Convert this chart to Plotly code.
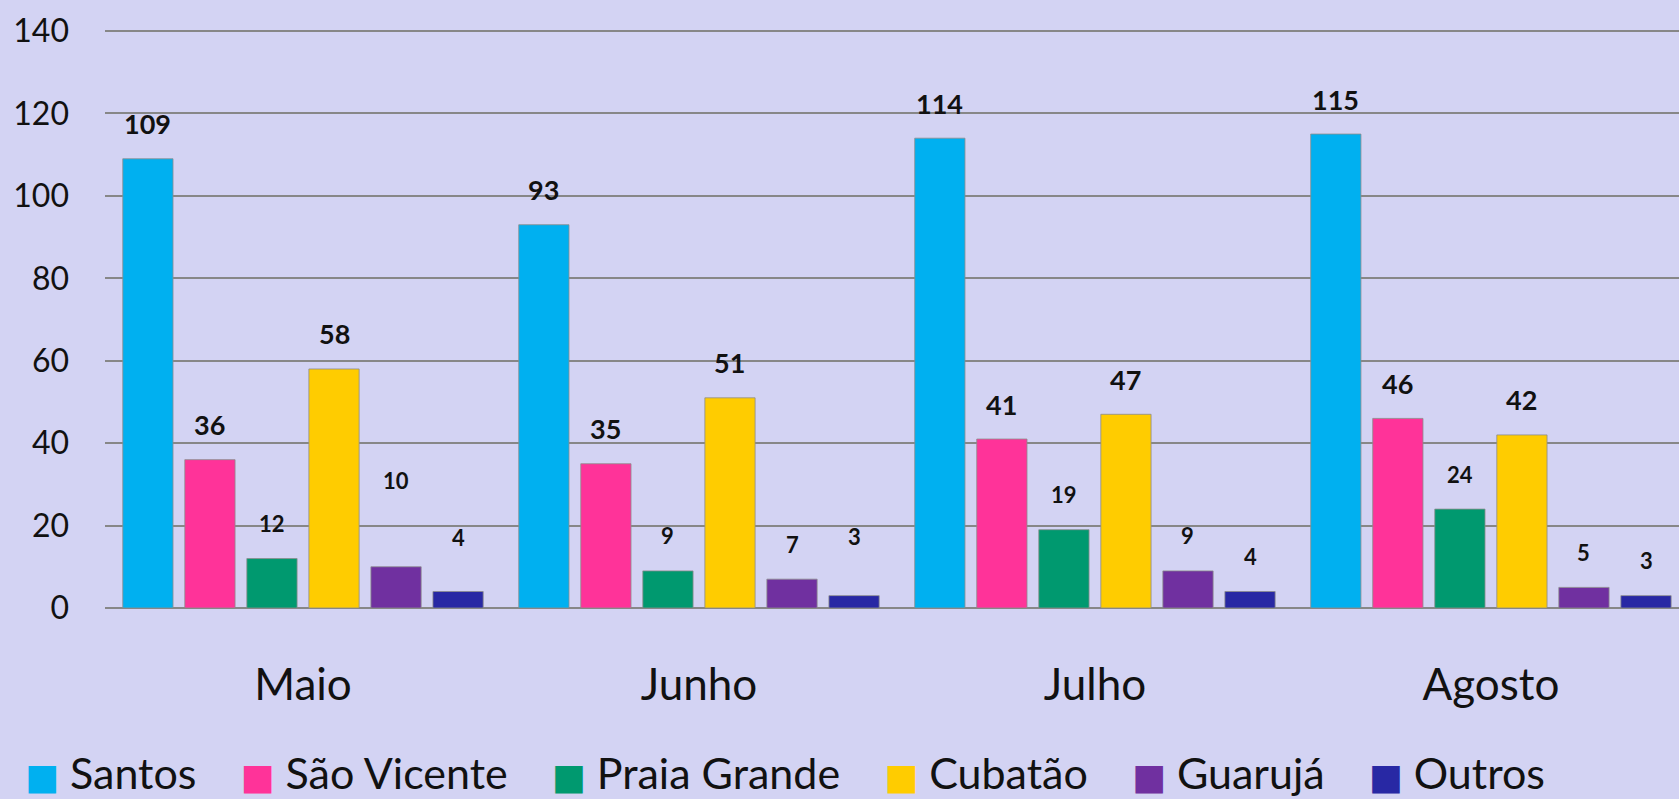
import plotly.graph_objects as go

# data
months = ["Maio", "Junho", "Julho", "Agosto"]
cities = ["Santos", "São Vicente", "Praia Grande", "Cubatão", "Guarujá", "Outros"]
santos = [109, 93, 114, 115]
sao_vicente = [36, 35, 41, 46]
praia_grande = [12, 9, 19, 24]
cubatao = [58, 51, 47, 42]
guaruja = [10, 7, 9, 5]
outros = [4, 3, 4, 3]
y_ticks = [0, 20, 40, 60, 80, 100, 120, 140]

series = [santos, sao_vicente, praia_grande, cubatao, guaruja, outros]
colors = ["#00B0F0", "#FF3399", "#00996F", "#FFCC00", "#7030A0", "#2828A4"]
big_label = [True, True, False, True, False, False]

# layout constants
W, H = 1679, 799
ML, MR, MT, MB = 105, 0, 30, 191
BG = "#D3D3F3"
GRID = "#878787"
FONT = "Lato, 'Open Sans', sans-serif"
BARGAP = 0.06
GROUPGAP = 0.19
X_RANGE = [-0.5, 3.475]

# pixel width of one bar slot, used to centre labels over bars
cat_px = (W - ML - MR) / (X_RANGE[1] - X_RANGE[0])
slot_px = cat_px * (1 - BARGAP) / len(cities)

# how far above the bar top the value labels sit (px), with a few hand nudges
label_lift = 35
nudges = {("Guarujá", "Maio"): 86, ("Outros", "Maio"): 54, ("Outros", "Junho"): 59}

fig = go.Figure()
for i, (name, vals, col) in enumerate(zip(cities, series, colors)):
    fig.add_trace(go.Bar(
        x=months, y=vals, name=name,
        marker=dict(color=col, line=dict(color="rgba(140,140,140,0.8)", width=1)),
        showlegend=False,
    ))

annotations = []
for i, (name, vals) in enumerate(zip(cities, series)):
    for m, v in zip(months, vals):
        annotations.append(dict(
            x=m, y=v, xref="x", yref="y",
            text="<b>%d</b>" % v, showarrow=False,
            xshift=(i - (len(cities) - 1) / 2) * slot_px,
            yshift=nudges.get((name, m), label_lift),
            yanchor="middle",
            font=dict(family=FONT, size=27 if big_label[i] else 22, color="#111111"),
        ))

# legend row drawn as one text line with coloured square glyphs
sq = ('<span style="font-family:\'DejaVu Sans\';font-size:36px;color:%s">&#9632;</span>')
gap = "&nbsp;" * 4
legend_text = gap.join(
    (sq % c) + "&nbsp;" + n for n, c in zip(cities, colors)
)
annotations.append(dict(
    x=(23 - ML) / (W - ML - MR), y=-0.285, xref="paper", yref="paper",
    xanchor="left", yanchor="middle", showarrow=False,
    text=legend_text, font=dict(family=FONT, size=43, color="#111111"),
))

fig.update_layout(
    width=W, height=H,
    margin=dict(l=ML, r=MR, t=MT, b=MB),
    paper_bgcolor=BG, plot_bgcolor=BG,
    barmode="group", bargap=BARGAP, bargroupgap=GROUPGAP,
    annotations=annotations,
    font=dict(family=FONT, color="#111111"),
)
fig.update_xaxes(
    range=X_RANGE, showgrid=False, ticks="", showline=False,
    tickfont=dict(size=44), ticklabelstandoff=47,
)
fig.update_yaxes(
    range=[0, 140.25], tickvals=y_ticks, showgrid=True, gridcolor=GRID, gridwidth=2,
    zeroline=True, zerolinecolor=GRID, zerolinewidth=2, showline=False,
    tickfont=dict(size=32), ticklabelstandoff=35,
)

fig.write_html("out.html", config={"displayModeBar": False},
               post_script="document.body.style.margin='0';")
